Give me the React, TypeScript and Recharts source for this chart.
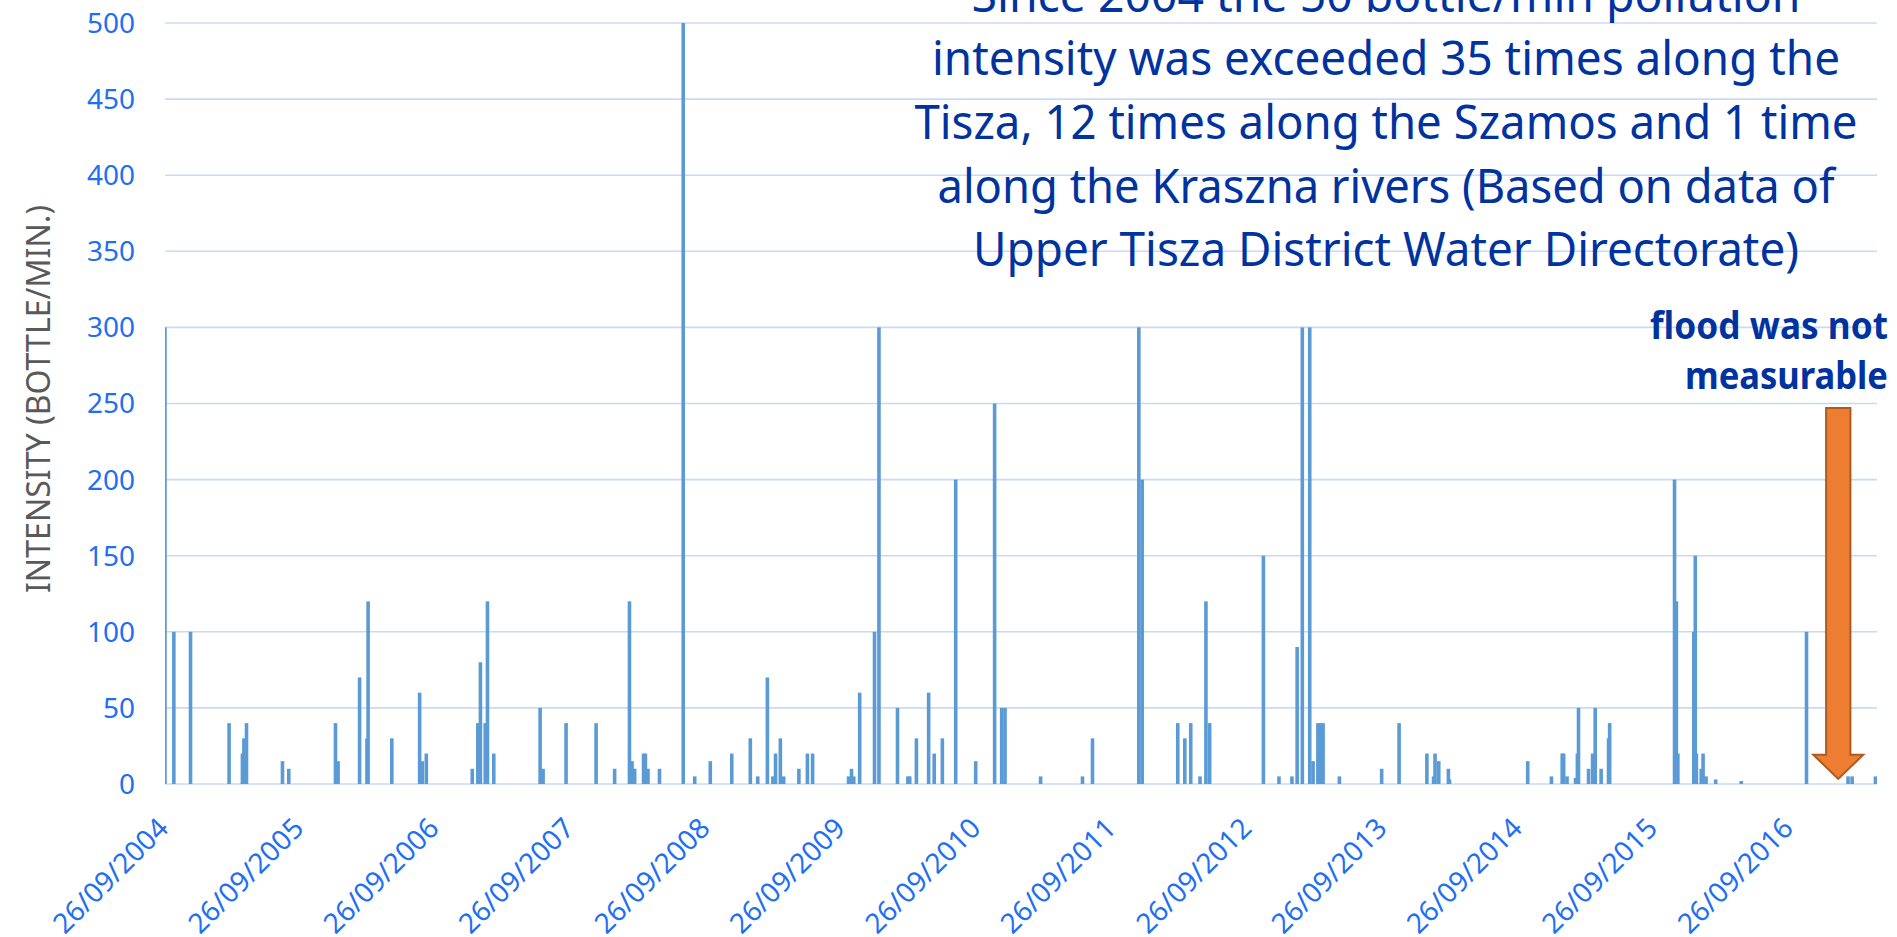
import React from 'react';
import { BarChart, Bar, XAxis, YAxis, CartesianGrid, ReferenceArea } from 'recharts';

// ---------- data ----------
const eventDates = [
  '2004-09-26', '2004-10-20', '2004-12-04', '2005-03-18', '2005-04-23', '2005-04-27', '2005-05-04',
  '2005-08-09', '2005-08-26', '2005-12-30', '2006-01-06', '2006-03-05', '2006-03-25', '2006-03-28',
  '2006-05-31', '2006-08-14', '2006-08-21', '2006-09-01', '2007-01-03', '2007-01-18', '2007-01-25',
  '2007-02-07', '2007-02-13', '2007-03-02', '2007-07-05', '2007-07-13', '2007-09-13', '2007-12-03',
  '2008-01-22', '2008-03-02', '2008-03-09', '2008-03-16', '2008-04-09', '2008-04-14', '2008-04-21',
  '2008-05-22', '2008-07-25', '2008-08-25', '2008-10-06', '2008-12-03', '2009-01-22', '2009-02-11',
  '2009-03-09', '2009-03-24', '2009-03-31', '2009-04-13', '2009-04-22', '2009-06-02', '2009-06-25',
  '2009-07-09', '2009-10-14', '2009-10-22', '2009-10-28', '2009-11-13', '2009-12-23', '2010-01-04',
  '2010-02-23', '2010-03-23', '2010-03-28', '2010-04-15', '2010-05-18', '2010-06-02', '2010-06-24',
  '2010-07-30', '2010-09-22', '2010-11-12', '2010-12-01', '2010-12-10', '2011-03-16', '2011-07-07',
  '2011-08-03', '2011-12-06', '2011-12-15', '2012-03-20', '2012-04-08', '2012-04-24', '2012-05-19',
  '2012-06-04', '2012-06-14', '2012-11-06', '2012-12-18', '2013-01-22', '2013-02-05', '2013-02-19',
  '2013-03-11', '2013-03-20', '2013-04-02', '2013-04-09', '2013-04-16', '2013-05-30', '2013-09-21',
  '2013-11-07', '2014-01-21', '2014-02-08', '2014-02-12', '2014-02-22', '2014-03-20', '2014-03-23',
  '2014-10-20', '2014-12-23', '2015-01-21', '2015-01-25', '2015-02-03', '2015-02-26', '2015-03-03',
  '2015-03-06', '2015-04-02', '2015-04-13', '2015-04-20', '2015-05-06', '2015-05-26', '2015-05-29',
  '2015-11-20', '2015-11-25', '2015-11-29', '2016-01-11', '2016-01-15', '2016-01-18', '2016-01-31',
  '2016-02-05', '2016-02-13', '2016-03-10', '2016-05-18', '2016-11-10', '2017-03-02', '2017-03-13',
  '2017-05-15',
];

const eventValues = [
  300, 100, 100, 40, 20, 30, 40,
  15, 10, 40, 15, 70, 30, 120,
  30, 60, 15, 20, 10, 40, 80,
  40, 120, 20, 50, 10, 40, 40,
  10, 120, 15, 10, 20, 20, 10,
  10, 500, 5, 15, 20, 30, 5,
  70, 5, 20, 30, 5, 10, 20,
  20, 5, 10, 5, 60, 100, 300,
  50, 5, 5, 30, 60, 20, 30,
  200, 15, 250, 50, 50, 5, 5,
  30, 300, 200, 40, 30, 40, 5,
  120, 40, 150, 5, 5, 90, 300,
  300, 15, 40, 40, 40, 5, 10,
  40, 20, 5, 20, 15, 10, 3,
  15, 5, 20, 20, 5, 4, 20,
  50, 10, 20, 50, 10, 30, 40,
  200, 120, 20, 100, 150, 20, 10,
  20, 5, 3, 2, 100, 5, 5,
  5,
];

const yTicks = [0, 50, 100, 150, 200, 250, 300, 350, 400, 450, 500];
const xTickDates = [
  '2004-09-26', '2005-09-26', '2006-09-26', '2007-09-26', '2008-09-26', '2009-09-26', '2010-09-26',
  '2011-09-26', '2012-09-26', '2013-09-26', '2014-09-26', '2015-09-26', '2016-09-26',
];
const xDomainDates = ['2004-09-26', '2017-05-19'];

const yAxisTitle = 'INTENSITY (BOTTLE/MIN.)';
const titleLines = [
  'Since 2004 the 50 bottle/min pollution',
  'intensity was exceeded 35 times along the',
  'Tisza, 12 times along the Szamos and 1 time',
  'along the Kraszna rivers (Based on data of',
  'Upper Tisza District Water Directorate)',
];
const titleWidths = [829, 908, 943, 897, 826];
const noteLines = ['flood was not', 'measurable'];
const noteWidths = [238, 203];

// annotation arrow ("flood was not measurable") in data coordinates
const arrowDates = ['2016-11-28', '2017-04-12'];
const arrowValues = [3.3, 247];

// ---------- helpers ----------
const ts = (s: string) => Date.UTC(+s.slice(0, 4), +s.slice(5, 7) - 1, +s.slice(8, 10));
const pad = (n: number) => (n < 10 ? '0' + n : '' + n);
const fmtDate = (t: number) => {
  const d = new Date(t);
  return `${pad(d.getUTCDate())}/${pad(d.getUTCMonth() + 1)}/${d.getUTCFullYear()}`;
};

const data = eventDates.map((d, i) => ({ t: ts(d), value: eventValues[i] }));
const xTicks = xTickDates.map(ts);
const xDomain = xDomainDates.map(ts);

const FONT = '"Noto Sans", "Open Sans", sans-serif';
const TICK_COLOR = '#1f6ff2';
const BAR_COLOR = '#5b9bd5';
const GRID_COLOR = '#c8daf7';
const TEXT_BLUE = '#0033a0';
const BAR_W = 3.6;

const XTick = (props: any) => {
  const { x, y, payload } = props;
  const ax = x + 5;
  const ay = y + 46;
  return (
    <text
      x={ax}
      y={ay}
      textAnchor="end"
      transform={`rotate(-45 ${ax} ${ay})`}
      fill={TICK_COLOR}
      fontSize={28}
      fontFamily={FONT}
    >
      {fmtDate(payload.value)}
    </text>
  );
};

const BarShape = (p: any) => {
  if (p.height == null || isNaN(p.height)) return null;
  const cx = p.x + p.width / 2;
  return <rect x={cx - BAR_W / 2} y={p.y} width={BAR_W} height={Math.max(0, p.height)} fill={BAR_COLOR} />;
};

const ArrowShape = (p: any) => {
  const { x, y, width, height } = p;
  if (x == null || isNaN(x)) return null;
  const cx = x + width / 2;
  const sw = (width * 0.486) / 2;
  const bot = y + height;
  const hb = bot - height * 0.0655;
  const pts = [
    [cx - sw, y],
    [cx + sw, y],
    [cx + sw, hb],
    [x + width, hb],
    [cx, bot],
    [x, hb],
    [cx - sw, hb],
  ]
    .map((q) => q.join(','))
    .join(' ');
  return <polygon points={pts} fill="#ed7d31" stroke="#ae5a21" strokeWidth={2} strokeLinejoin="miter" />;
};

export default function App() {
  return (
    <div
      style={{
        position: 'absolute',
        left: 0,
        top: 0,
        width: 1897,
        height: 937,
        overflow: 'hidden',
        background: '#ffffff',
      }}
    >
      <BarChart
        width={1897}
        height={937}
        data={data}
        margin={{ top: 23, right: 20, bottom: 0, left: 0 }}
      >
        <CartesianGrid vertical={false} stroke={GRID_COLOR} strokeWidth={1.6} />
        <XAxis
          dataKey="t"
          type="number"
          scale="linear"
          domain={xDomain}
          allowDataOverflow
          ticks={xTicks}
          interval={0}
          axisLine={false}
          tickLine={false}
          tickSize={0}
          tickMargin={0}
          height={153}
          tick={<XTick />}
        />
        <YAxis
          type="number"
          domain={[0, 500]}
          ticks={yTicks}
          interval={0}
          width={165}
          axisLine={false}
          tickLine={false}
          tickSize={0}
          tickMargin={30}
          tick={{ fill: TICK_COLOR, fontSize: 28, fontFamily: FONT }}
        />
        <Bar
          dataKey="value"
          fill={BAR_COLOR}
          barSize={BAR_W}
          isAnimationActive={false}
          shape={<BarShape />}
        />
        <ReferenceArea
          x1={ts(arrowDates[0])}
          x2={ts(arrowDates[1])}
          y1={arrowValues[0]}
          y2={arrowValues[1]}
          ifOverflow="visible"
          shape={<ArrowShape />}
        />
      </BarChart>
      <svg
        width={1897}
        height={937}
        style={{ position: 'absolute', left: 0, top: 0, pointerEvents: 'none' }}
      >
        <text
          x={50}
          y={399}
          transform="rotate(-90 50 399)"
          textAnchor="middle"
          fill="#595959"
          fontSize={32}
          fontFamily={FONT}
          textLength={388}
          lengthAdjust="spacingAndGlyphs"
        >
          {yAxisTitle}
        </text>
        {titleLines.map((line, i) => (
          <text
            key={i}
            x={1386}
            y={11.5 + i * 63.7}
            textAnchor="middle"
            fill={TEXT_BLUE}
            fontSize={48}
            fontFamily={FONT}
            textLength={titleWidths[i]}
            lengthAdjust="spacingAndGlyphs"
          >
            {line}
          </text>
        ))}
        {noteLines.map((line, i) => (
          <text
            key={i}
            x={1888}
            y={339 + i * 50}
            textAnchor="end"
            fill={TEXT_BLUE}
            fontSize={37}
            fontWeight="bold"
            fontFamily={FONT}
            textLength={noteWidths[i]}
            lengthAdjust="spacingAndGlyphs"
          >
            {line}
          </text>
        ))}
      </svg>
    </div>
  );
}
